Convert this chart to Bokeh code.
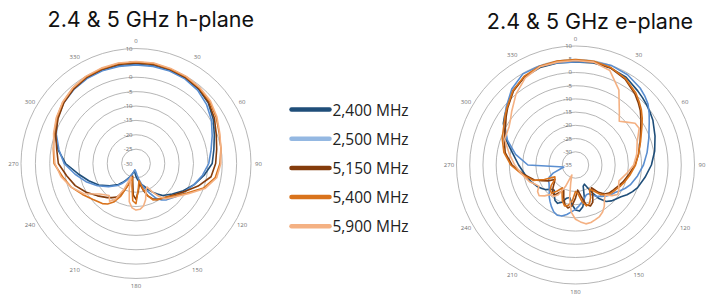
import numpy as np
from bokeh.plotting import figure
from bokeh.models import Range1d
from bokeh.core.properties import value
from bokeh.embed import file_html
from bokeh.resources import INLINE

# ---------------- data ----------------
titles = ["2.4 & 5 GHz h-plane", "2.4 & 5 GHz e-plane"]
series_names = ["2,400 MHz", "2,500 MHz", "5,150 MHz", "5,400 MHz", "5,900 MHz"]
line_colors = ["#1f4e79", "#5a8ed0", "#843c0c", "#d9731c", "#f4b183"]
legend_colors = ["#1f4e79", "#94b8e2", "#843c0c", "#d9731c", "#f4b183"]

category_ticks = [0, 30, 60, 90, 120, 150, 180, 210, 240, 270, 300, 330]
h_value_ticks = [-30, -25, -20, -15, -10, -5, 0, 5, 10]
e_value_ticks = [-35, -30, -25, -20, -15, -10, -5, 0, 5, 10]

# h-plane (degrees, dB)
h_angles = [0, 10, 20, 30, 40, 50, 60, 70, 80, 90, 100, 110, 120, 130, 140,
            145, 150, 155, 160, 165, 170, 175, 180, 185, 190, 195, 200, 205, 210, 215,
            220, 230, 240, 250, 260, 270, 280, 290, 300, 310, 320, 330, 340, 350]
h_2400 = [4.5, 4.5, 4.5, 4.3, 3.8, 2.8, 1.0, -1.0, -2.5, -3.5, -6.0, -8.5, -11.0, -13.5, -15.5,
          -17.0, -18.5, -20.0, -21.5, -22.5, -23.5, -24.5, -25.5, -26.5, -27.5, -27.0, -26.0, -24.8, -23.5, -22.0,
          -20.5, -18.0, -15.0, -12.5, -9.5, -5.5, -2.5, 0.0, 1.8, 3.0, 3.8, 4.3, 4.5, 4.5]
h_2500 = [4.3, 4.3, 4.2, 4.0, 3.3, 2.0, 0.3, -1.8, -3.5, -4.7, -6.5, -8.5, -10.5, -12.0, -13.5,
          -14.5, -16.0, -18.5, -20.5, -22.5, -24.5, -26.0, -27.0, -27.5, -27.8, -27.0, -26.0, -24.5, -23.0, -21.5,
          -20.0, -17.5, -14.5, -11.5, -8.5, -5.0, -2.8, -0.5, 1.5, 2.8, 3.6, 4.1, 4.3, 4.3]
h_5150 = [5.0, 5.0, 4.8, 4.5, 4.0, 3.0, 1.5, -0.3, -1.5, -2.3, -3.5, -7.0, -10.5, -13.0, -14.5,
          -15.0, -15.5, -16.5, -18.0, -20.5, -23.0, -20.5, -17.5, -19.0, -23.5, -25.5, -22.0, -18.5, -16.5, -15.5,
          -14.5, -12.5, -10.0, -7.5, -5.5, -3.0, -2.0, -0.3, 1.3, 2.8, 3.8, 4.5, 4.8, 5.0]
h_5400 = [5.3, 5.3, 5.0, 4.8, 4.3, 3.5, 2.2, 0.8, 0.0, -0.8, -2.0, -5.0, -9.5, -12.5, -14.5,
          -15.0, -15.5, -16.0, -18.0, -21.0, -24.0, -21.0, -16.0, -17.0, -22.0, -25.0, -22.0, -17.5, -14.5, -12.8,
          -11.8, -10.5, -8.5, -6.0, -4.0, -1.5, -0.8, 0.3, 1.8, 3.2, 4.2, 4.8, 5.1, 5.3]
h_5900 = [5.5, 5.5, 5.2, 5.0, 4.5, 3.8, 2.5, 1.0, 0.0, -0.5, -1.5, -4.5, -9.0, -12.0, -14.0,
          -16.0, -18.5, -21.0, -20.0, -17.0, -15.0, -14.0, -13.8, -14.5, -16.5, -21.0, -25.0, -20.0, -15.5, -14.0,
          -15.5, -13.5, -9.0, -6.0, -3.5, -1.8, -1.0, 0.5, 2.0, 3.3, 4.3, 5.0, 5.3, 5.5]

# e-plane (degrees, dB)
e_angles = [0, 10, 20, 30, 40, 45, 50, 55, 60, 70, 80, 90, 100, 110,
            115, 120, 125, 130, 135, 140, 145, 150, 155, 160, 165, 170, 175, 180, 185,
            190, 195, 200, 205, 210, 215, 220, 225, 230, 235, 240, 245,
            250, 260, 270, 280, 290, 300, 305, 310, 320, 330, 340, 350]
e_2400 = [4.0, 4.2, 4.0, 3.3, 1.6, 0.9, 0.2, -0.5, -1.2, -3.0, -4.6, -6.3, -8.3, -10.0,
          -11.2, -12.5, -14.0, -15.0, -15.8, -17.0, -19.5, -23.5, -27.0, -26.5, -22.0, -19.0, -17.5, -18.0, -20.0,
          -22.5, -22.0, -20.0, -19.0, -19.5, -21.0, -22.5, -22.0, -20.5, -19.5, -18.5, -17.8,
          -17.0, -15.5, -13.5, -11.0, -7.0, -3.5, -2.3, -1.2, 1.8, 3.5, 4.2, 4.2]
e_2500 = [4.0, 4.6, 5.0, 4.4, 3.0, 2.0, 0.8, -1.0, -2.8, -5.5, -7.5, -9.3, -11.2, -13.0,
          -14.2, -15.5, -16.8, -17.5, -18.5, -19.5, -20.5, -21.8, -23.0, -23.0, -22.0, -20.8, -19.5, -18.2, -17.2,
          -16.0, -15.0, -14.8, -15.5, -16.8, -18.2, -19.5, -21.0, -22.0, -22.8, -23.2, -24.0,
          -26.0, -30.5, -17.0, -12.0, -7.6, -4.0, -2.4, -0.8, 2.5, 4.8, 4.8, 4.3]
e_5150 = [4.6, 4.5, 4.0, 2.5, 0.0, -1.5, -3.0, -4.8, -6.5, -9.0, -10.8, -12.5, -14.5, -16.0,
          -16.8, -17.5, -18.0, -18.5, -19.5, -21.5, -24.5, -22.0, -19.5, -18.5, -19.5, -23.0, -25.5, -22.5, -19.5,
          -18.5, -19.5, -22.0, -24.5, -23.0, -21.0, -21.5, -23.0, -24.5, -25.5, -23.0, -21.0,
          -18.5, -15.0, -11.0, -8.0, -6.3, -4.5, -3.0, -1.5, 1.5, 3.5, 4.5, 4.7]
e_5400 = [4.9, 4.8, 4.2, 2.8, 0.5, -1.0, -2.5, -4.2, -6.0, -8.8, -10.8, -12.3, -14.0, -15.5,
          -16.2, -17.0, -17.5, -18.0, -19.0, -20.5, -23.0, -24.5, -21.5, -19.5, -19.0, -21.0, -24.0, -25.0, -21.5,
          -19.5, -19.0, -20.5, -23.0, -25.0, -23.0, -21.0, -21.5, -23.0, -25.5, -26.0, -22.0,
          -18.0, -14.5, -10.5, -7.5, -5.5, -3.8, -2.5, -1.2, 1.8, 3.8, 4.7, 4.9]
e_5900 = [4.5, 4.5, 3.0, -2.2, -9.2, -11.6, -9.8, -7.5, -7.2, -10.2, -11.5, -13.0, -15.5, -17.5,
          -17.0, -16.0, -15.5, -17.0, -19.0, -18.0, -16.0, -14.5, -13.5, -13.0, -12.5, -12.4, -13.4, -14.5, -17.0,
          -22.0, -28.0, -31.0, -26.0, -22.0, -20.5, -20.5, -18.5, -17.0, -17.5, -19.0, -18.0,
          -16.5, -14.5, -12.0, -9.5, -6.5, -6.0, -5.0, -3.5, 0.0, 3.0, 4.5, 4.5]

h_series = [h_2400, h_2500, h_5150, h_5400, h_5900]
e_series = [e_2400, e_2500, e_5150, e_5400, e_5900]

# ---------------- layout ----------------
W, H = 726, 308
p = figure(width=W, height=H, output_backend="svg", toolbar_location=None,
           x_range=Range1d(0, W), y_range=Range1d(H, 0), min_border=0)
p.axis.visible = False
p.grid.visible = False
p.outline_line_color = None
p.background_fill_color = "white"
p.border_fill_color = "white"

GRID_COLOR = "#a3a3a3"
LABEL_COLOR = "#6f6f6f"
LABEL_FONT = value("Open Sans")


def to_xy(cx, cy, R, vmin, vmax, angles, vals):
    th = np.radians(np.asarray(angles, dtype=float))
    r = (np.asarray(vals, dtype=float) - vmin) / (vmax - vmin) * R
    return cx + r * np.sin(th), cy - r * np.cos(th)


def radar(cx, cy, R, ticks, angles, series, title, title_x, title_y):
    vmin, vmax = ticks[0], ticks[-1]
    # rings
    ring_r = [(t - vmin) / (vmax - vmin) * R for t in ticks[1:]]
    p.circle(x=[cx] * len(ring_r), y=[cy] * len(ring_r), radius=ring_r,
             fill_color=None, line_color=GRID_COLOR, line_width=0.8)
    # value labels
    ly = [cy - (t - vmin) / (vmax - vmin) * R for t in ticks]
    p.text(x=[cx - 3.5] * len(ticks), y=ly, text=[str(t) for t in ticks],
           text_align="right", text_baseline="middle", text_font=LABEL_FONT,
           text_font_size=value("6px"), text_color=LABEL_COLOR)
    # category labels
    th = np.radians(category_ticks)
    p.text(x=cx + (R + 7.5) * np.sin(th), y=cy - (R + 7.5) * np.cos(th),
           text=[str(c) for c in category_ticks], text_align="center",
           text_baseline="middle", text_font=LABEL_FONT,
           text_font_size=value("6px"), text_color=LABEL_COLOR)
    # series (radar lines close on themselves)
    for vals, col in zip(series, line_colors):
        x, y = to_xy(cx, cy, R, vmin, vmax, list(angles) + [angles[0]], list(vals) + [vals[0]])
        p.line(x, y, line_color=col, line_width=1.6, line_join="round")
    p.text(x=[title_x], y=[title_y], text=[title], text_align="center",
           text_baseline="middle", text_font=value("Inter"),
           text_font_size=value("21.5px"), text_color="#111111")


radar(135.5, 163, 115, h_value_ticks, h_angles, h_series, titles[0], 150.3, 18)
radar(575, 164.5, 119, e_value_ticks, e_angles, e_series, titles[1], 589.5, 20)

# legend
leg_y = [109 + 29.2 * i for i in range(len(series_names))]
p.segment(x0=[291] * 5, y0=leg_y, x1=[329] * 5, y1=leg_y, line_color=legend_colors,
          line_width=4.5, line_cap="round")
p.text(x=[332] * 5, y=leg_y, text=series_names, text_align="left", text_baseline="middle",
       text_font=value("Open Sans"), text_font_size=value("15.5px"), text_color="#222222")

open("out.html", "w").write(file_html(p, INLINE))
